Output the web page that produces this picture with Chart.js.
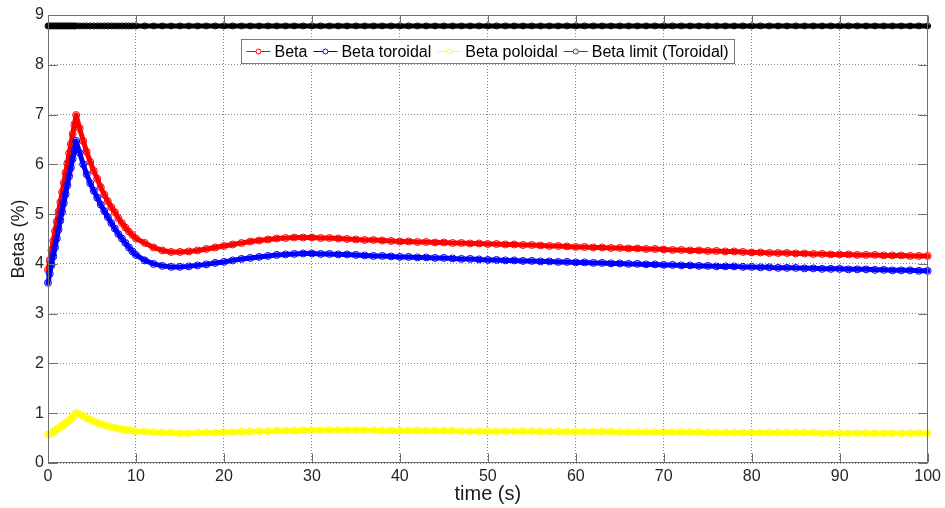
<!DOCTYPE html>
<html>
<head>
<meta charset="utf-8">
<script src="https://cdn.jsdelivr.net/npm/chart.js@4"></script>
<style>
  html, body { margin: 0; padding: 0; background: #fff; }
  #wrap { width: 945px; height: 508px; position: relative; }
</style>
</head>
<body>
<div id="wrap"><canvas id="betaChart"></canvas></div>
<script>
// time samples (s)
const time = [
  0,0.2,0.4,0.6,0.8,1,1.2,1.4,1.6,1.8,2,2.2,2.4,2.6,2.8,3,3.2,
  3.6,4,4.4,4.8,5.2,5.6,6,6.4,6.8,7.2,7.6,8,8.4,8.8,9.2,9.6,10,
  11,12,13,14,15,16,17,18,19,20,
  21,22,23,24,25,26,27,28,29,30,
  31,32,33,34,35,36,37,38,39,40,
  41,42,43,44,45,46,47,48,49,50,
  51,52,53,54,55,56,57,58,59,60,
  61,62,63,64,65,66,67,68,69,70,
  71,72,73,74,75,76,77,78,79,80,
  81,82,83,84,85,86,87,88,89,90,
  91,92,93,94,95,96,97,98,99,100
];

// Beta (%)
const beta = [
  3.88,4.07,4.27,4.46,4.66,4.85,5.05,5.24,5.44,5.63,5.83,6.02,6.22,6.41,6.61,6.80,6.99,
  6.72,6.47,6.25,6.05,5.87,5.71,5.54,5.39,5.26,5.14,5.04,4.92,4.82,4.73,4.65,4.58,4.51,
  4.42,4.33,4.27,4.24,4.24,4.25,4.27,4.30,4.33,4.36,
  4.39,4.42,4.45,4.47,4.49,4.51,4.52,4.53,4.53,4.53,
  4.52,4.52,4.51,4.50,4.49,4.48,4.48,4.47,4.46,4.45,
  4.45,4.44,4.44,4.43,4.43,4.42,4.42,4.41,4.41,4.40,
  4.40,4.39,4.39,4.38,4.38,4.37,4.36,4.36,4.35,4.34,
  4.34,4.33,4.33,4.32,4.32,4.31,4.31,4.30,4.30,4.29,
  4.28,4.28,4.27,4.27,4.26,4.26,4.25,4.25,4.24,4.23,
  4.23,4.22,4.22,4.22,4.21,4.21,4.20,4.20,4.19,4.19,
  4.19,4.18,4.18,4.18,4.17,4.17,4.17,4.16,4.16,4.16
];

// Beta toroidal (%)
const betaTor = [
  3.62,3.80,3.98,4.15,4.33,4.51,4.69,4.87,5.04,5.22,5.40,5.58,5.76,5.93,6.11,6.29,6.47,
  6.23,6.00,5.80,5.62,5.47,5.33,5.19,5.06,4.94,4.82,4.71,4.60,4.51,4.42,4.33,4.25,4.18,
  4.07,4.00,3.96,3.94,3.94,3.95,3.97,3.99,4.02,4.04,
  4.07,4.10,4.12,4.14,4.16,4.18,4.19,4.20,4.21,4.21,
  4.20,4.20,4.19,4.19,4.18,4.17,4.16,4.16,4.15,4.14,
  4.14,4.13,4.13,4.12,4.12,4.11,4.10,4.10,4.09,4.08,
  4.08,4.07,4.07,4.06,4.06,4.05,4.05,4.04,4.04,4.03,
  4.03,4.02,4.02,4.01,4.01,4.00,4.00,3.99,3.99,3.98,
  3.98,3.97,3.97,3.96,3.96,3.95,3.95,3.95,3.94,3.94,
  3.93,3.93,3.92,3.92,3.92,3.91,3.91,3.90,3.90,3.90,
  3.89,3.89,3.89,3.88,3.88,3.87,3.87,3.87,3.86,3.86
];

// Beta poloidal (%)
const betaPol = [
  0.57,0.59,0.61,0.63,0.65,0.68,0.70,0.72,0.75,0.77,0.80,0.83,0.86,0.89,0.92,0.96,1.01,
  0.98,0.94,0.90,0.87,0.84,0.81,0.78,0.76,0.74,0.72,0.71,0.69,0.68,0.67,0.66,0.65,0.64,
  0.63,0.62,0.61,0.61,0.60,0.60,0.61,0.61,0.61,0.62,
  0.62,0.63,0.63,0.64,0.64,0.65,0.65,0.65,0.66,0.66,
  0.66,0.66,0.66,0.66,0.66,0.66,0.66,0.65,0.65,0.65,
  0.65,0.65,0.65,0.65,0.65,0.65,0.64,0.64,0.64,0.64,
  0.64,0.64,0.64,0.64,0.64,0.63,0.63,0.63,0.63,0.63,
  0.63,0.63,0.63,0.63,0.62,0.62,0.62,0.62,0.62,0.62,
  0.62,0.62,0.62,0.62,0.61,0.61,0.61,0.61,0.61,0.61,
  0.61,0.61,0.61,0.61,0.61,0.61,0.61,0.60,0.60,0.60,
  0.60,0.60,0.60,0.60,0.60,0.60,0.60,0.60,0.60,0.60
];

// Beta limit (Toroidal), constant
const betaLimit = 8.78;

const xTicks = [0,10,20,30,40,50,60,70,80,90,100];
const yTicks = [0,1,2,3,4,5,6,7,8,9];

const seriesNames  = ["Beta", "Beta toroidal", "Beta poloidal", "Beta limit (Toroidal)"];
const seriesColors = ["#ff0000", "#0000ff", "#ffff00", "#000000"];

const FONT = "Arial, 'Liberation Sans', sans-serif";

function pts(vals) { return time.map((t, i) => ({ x: t, y: vals[i] })); }

function ds(i, vals, order, lw, r) {
  return {
    label: seriesNames[i],
    data: pts(vals),
    borderColor: seriesColors[i],
    borderWidth: lw,
    borderJoinStyle: "round",
    borderCapStyle: "round",
    pointStyle: "circle",
    pointRadius: r,
    pointBorderWidth: 1,
    pointBorderColor: seriesColors[i],
    pointBackgroundColor: "rgba(255,255,255,0)",
    tension: 0,
    clip: false,
    order: order
  };
}

// MATLAB-like box, inward ticks and in-plot legend
const matlabFrame = {
  id: "matlabFrame",
  afterDatasetsDraw(chart) {
    const { ctx, chartArea: a, scales: { x, y } } = chart;
    const L = Math.round(a.left) + 0.5, R = Math.round(a.right) - 0.5;
    const T = Math.round(a.top) + 0.5, B = Math.round(a.bottom) - 0.5;
    ctx.save();
    ctx.lineWidth = 1;
    ctx.strokeStyle = "#6f6f6f";
    ctx.beginPath();
    xTicks.forEach(v => {
      const px = Math.round(x.getPixelForValue(v)) + 0.5;
      ctx.moveTo(px, B); ctx.lineTo(px, B - 9);
      ctx.moveTo(px, T); ctx.lineTo(px, T + 9);
    });
    yTicks.forEach(v => {
      const py = Math.round(y.getPixelForValue(v)) + 0.5;
      ctx.moveTo(L, py); ctx.lineTo(L + 9, py);
      ctx.moveTo(R, py); ctx.lineTo(R - 9, py);
    });
    ctx.stroke();
    ctx.strokeRect(L, T, R - L, B - T);

    // legend
    ctx.font = "16px " + FONT;
    const lineLen = 24, gapA = 4, gapB = 6, padL = 5;
    let total = padL;
    const widths = seriesNames.map(n => ctx.measureText(n).width);
    widths.forEach(w => { total += lineLen + gapA + w + gapB; });
    const bw = Math.round(total), bh = 24;
    const bx = Math.round((a.left + a.right) / 2 - bw / 2) + 0.5;
    const by = Math.round(a.top + 24) + 0.5;
    ctx.fillStyle = "#fff";
    ctx.fillRect(bx, by, bw, bh);
    ctx.strokeStyle = "#7a7a7a";
    ctx.strokeRect(bx, by, bw, bh);
    let cx = bx + padL;
    const cy = by + bh / 2;
    seriesNames.forEach((n, i) => {
      ctx.strokeStyle = seriesColors[i] === "#000000" ? "#444" : seriesColors[i];
      ctx.lineWidth = 1;
      ctx.beginPath();
      ctx.moveTo(cx, cy); ctx.lineTo(cx + lineLen, cy);
      ctx.stroke();
      ctx.beginPath();
      ctx.fillStyle = "#fff";
      ctx.arc(cx + lineLen / 2, cy, 2.5, 0, Math.PI * 2);
      ctx.fill(); ctx.stroke();
      ctx.fillStyle = "#000";
      ctx.textBaseline = "middle";
      ctx.textAlign = "left";
      ctx.fillText(n, cx + lineLen + gapA, cy + 1);
      cx += lineLen + gapA + widths[i] + gapB;
    });
    ctx.restore();
  }
};

new Chart(document.getElementById("betaChart"), {
  type: "line",
  data: {
    datasets: [
      ds(0, beta, 4, 5, 3.5),
      ds(1, betaTor, 3, 5, 3.5),
      ds(2, betaPol, 2, 5, 3.5),
      ds(3, time.map(() => betaLimit), 1, 5, 3)
    ]
  },
  options: {
    responsive: true,
    maintainAspectRatio: false,
    animation: false,
    layout: { padding: { left: 0, right: 16, top: 15, bottom: 0 } },
    plugins: { legend: { display: false }, tooltip: { enabled: false } },
    scales: {
      x: {
        type: "linear", min: 0, max: 100,
        afterBuildTicks: s => { s.ticks = xTicks.map(v => ({ value: v })); },
        afterFit: s => { s.height = 45; },
        ticks: { color: "#262626", font: { size: 16, family: FONT }, padding: 4, maxRotation: 0 },
        grid: { color: "#8a8a8a", drawTicks: false },
        border: { display: false, dash: [1, 2] },
        title: { display: true, text: "time (s)", color: "#1a1a1a", font: { size: 20, family: FONT }, padding: { top: 3, bottom: 2 } }
      },
      y: {
        min: 0, max: 9,
        afterBuildTicks: s => { s.ticks = yTicks.map(v => ({ value: v })); },
        afterFit: s => { s.width = 48; },
        ticks: { color: "#262626", font: { size: 16, family: FONT }, padding: 4 },
        grid: { color: "#8a8a8a", drawTicks: false },
        border: { display: false, dash: [1, 2] },
        title: { display: true, text: "Betas (%)", color: "#1a1a1a", font: { size: 18, family: FONT }, padding: { top: 8, bottom: 0 } }
      }
    }
  },
  plugins: [matlabFrame]
});
</script>
</body>
</html>
